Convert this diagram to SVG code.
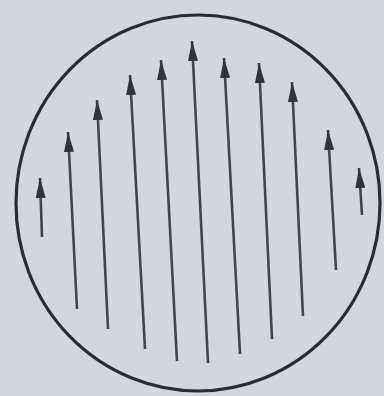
<svg xmlns="http://www.w3.org/2000/svg" width="384" height="396" viewBox="0 0 384 396">
<defs>
<style>
.bg{fill:#d5d5df}
.ring{fill:none;stroke:#2b2b36;stroke-width:3.2}
.arr{stroke:#44444f;stroke-width:2.6;fill:none;marker-end:url(#head)}
</style>
<marker id="head" viewBox="0 0 20 10" refX="20" refY="5" markerWidth="20" markerHeight="10" markerUnits="userSpaceOnUse" orient="auto">
<path d="M0,0 L20,5 L0,10 Z" fill="#33333e"/>
</marker>
</defs>
<rect class="bg" x="0" y="0" width="384" height="396"/>
<g id="circle">
<ellipse class="ring" cx="198" cy="203" rx="182" ry="188"/>
</g>
<g id="connectors">
<line class="arr" x1="42" y1="237" x2="40" y2="178"/>
<line class="arr" x1="77" y1="309" x2="68" y2="132"/>
<line class="arr" x1="108" y1="329" x2="97" y2="100"/>
<line class="arr" x1="145" y1="349" x2="130" y2="75"/>
<line class="arr" x1="177" y1="361" x2="161" y2="60"/>
<line class="arr" x1="208" y1="363" x2="192" y2="41"/>
<line class="arr" x1="240" y1="354" x2="224" y2="58"/>
<line class="arr" x1="272" y1="339" x2="259" y2="63"/>
<line class="arr" x1="303" y1="316" x2="292" y2="82"/>
<line class="arr" x1="336" y1="270" x2="328" y2="130"/>
<line class="arr" x1="362" y1="215" x2="359" y2="168"/>
</g>
</svg>
